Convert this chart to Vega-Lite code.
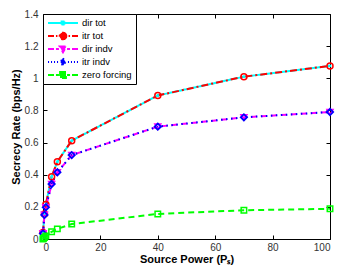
{
  "$schema": "https://vega.github.io/schema/vega-lite/v6.json",
  "width": 287,
  "height": 225,
  "autosize": "none",
  "padding": {"left": 43, "top": 14, "right": 15, "bottom": 29},
  "background": "white",
  "datasets": {
    "d": [
      {"s": "dir tot", "x": 0, "y": 0.04},
      {"s": "dir tot", "x": 0.5, "y": 0.155},
      {"s": "dir tot", "x": 1, "y": 0.215},
      {"s": "dir tot", "x": 3, "y": 0.388},
      {"s": "dir tot", "x": 5, "y": 0.481},
      {"s": "dir tot", "x": 10, "y": 0.612},
      {"s": "dir tot", "x": 40, "y": 0.893},
      {"s": "dir tot", "x": 70, "y": 1.01},
      {"s": "dir tot", "x": 100, "y": 1.077},
      {"s": "itr tot", "x": 0, "y": 0.04},
      {"s": "itr tot", "x": 0.5, "y": 0.155},
      {"s": "itr tot", "x": 1, "y": 0.215},
      {"s": "itr tot", "x": 3, "y": 0.388},
      {"s": "itr tot", "x": 5, "y": 0.481},
      {"s": "itr tot", "x": 10, "y": 0.612},
      {"s": "itr tot", "x": 40, "y": 0.893},
      {"s": "itr tot", "x": 70, "y": 1.01},
      {"s": "itr tot", "x": 100, "y": 1.077},
      {"s": "dir indv", "x": 0, "y": 0.035},
      {"s": "dir indv", "x": 0.5, "y": 0.15},
      {"s": "dir indv", "x": 1, "y": 0.197},
      {"s": "dir indv", "x": 3, "y": 0.342},
      {"s": "dir indv", "x": 5, "y": 0.415},
      {"s": "dir indv", "x": 10, "y": 0.522},
      {"s": "dir indv", "x": 40, "y": 0.699},
      {"s": "dir indv", "x": 70, "y": 0.757},
      {"s": "dir indv", "x": 100, "y": 0.79},
      {"s": "itr indv", "x": 0, "y": 0.035},
      {"s": "itr indv", "x": 0.5, "y": 0.15},
      {"s": "itr indv", "x": 1, "y": 0.197},
      {"s": "itr indv", "x": 3, "y": 0.342},
      {"s": "itr indv", "x": 5, "y": 0.415},
      {"s": "itr indv", "x": 10, "y": 0.522},
      {"s": "itr indv", "x": 40, "y": 0.699},
      {"s": "itr indv", "x": 70, "y": 0.757},
      {"s": "itr indv", "x": 100, "y": 0.79},
      {"s": "zero forcing", "x": 0, "y": 0.0},
      {"s": "zero forcing", "x": 0.1, "y": 0.003},
      {"s": "zero forcing", "x": 0.5, "y": 0.01},
      {"s": "zero forcing", "x": 1, "y": 0.018},
      {"s": "zero forcing", "x": 3, "y": 0.045},
      {"s": "zero forcing", "x": 5, "y": 0.063},
      {"s": "zero forcing", "x": 10, "y": 0.093},
      {"s": "zero forcing", "x": 40, "y": 0.156},
      {"s": "zero forcing", "x": 70, "y": 0.179},
      {"s": "zero forcing", "x": 100, "y": 0.188}
    ]
  },
  "data": {"name": "d"},
  "resolve": {"axis": {"x": "independent", "y": "independent"}},
  "layer": [
    {
      "mark": {"type": "line", "strokeWidth": 2, "clip": false},
      "encoding": {
        "x": {
          "field": "x", "type": "quantitative",
          "scale": {"domain": [0, 100], "nice": false},
          "axis": {"values": [0, 20, 40, 60, 80, 100], "title": "Source Power (Pₛ)", "orient": "bottom"}
        },
        "y": {
          "field": "y", "type": "quantitative",
          "scale": {"domain": [0, 1.4], "nice": false},
          "axis": {"values": [0, 0.2, 0.4, 0.6, 0.8, 1, 1.2, 1.4], "format": "~g", "title": "Secrecy Rate (bps/Hz)", "orient": "left"}
        },
        "color": {
          "field": "s", "type": "nominal",
          "scale": {"domain": ["dir tot", "itr tot", "dir indv", "itr indv", "zero forcing"], "range": ["#00ffff", "#ff0000", "#ff00ff", "#0000ff", "#00ff00"]},
          "legend": {
            "title": null,
            "orient": "top-left",
            "offset": 0,
            "padding": 4,
            "rowPadding": 3,
            "clipHeight": 10,
            "strokeColor": "black",
            "fillColor": "white",
            "cornerRadius": 0,
            "symbolSize": 900,
            "symbolStrokeWidth": 1.8,
            "labelOffset": 3,
            "labelFont": "Liberation Sans",
            "labelFontSize": 9.5,
            "labelColor": "black",
            "encode": {
              "symbols": {
                "update": {
                  "shape": {"signal": "datum.value === 'dir tot' ? 'M-1,0H1M-0.1,-0.1H0.1V0.1H-0.1Z' : datum.value === 'itr tot' ? 'M-1,0H-0.6M-0.47,0H-0.37M1,0H0.6M0.47,0H0.37M0.23,0A0.23,0.23,0,1,1,-0.23,0A0.23,0.23,0,1,1,0.23,0Z' : datum.value === 'dir indv' ? 'M-1,0H-0.6M-0.47,0H-0.27M1,0H0.6M0.47,0H0.27M-0.23,-0.17L0.23,-0.17L0,0.23Z' : datum.value === 'itr indv' ? 'M-1,0H-0.93M-0.8,0H-0.73M-0.6,0H-0.53M-0.4,0H-0.33M1,0H0.93M0.8,0H0.73M0.6,0H0.53M0.4,0H0.33M0,-0.25L0.18,0L0,0.25L-0.18,0Z' : 'M-1,0H-0.6M-0.47,0H-0.27M1,0H0.6M0.47,0H0.27M-0.2,-0.2H0.2V0.2H-0.2Z'"},
                  "size": {"value": 900},
                  "fill": {"signal": "datum.value === 'dir tot' ? '#00ffff' : datum.value === 'dir indv' ? '#ff00ff' : datum.value === 'itr indv' ? '#0000ff' : 'transparent'"},
                  "strokeDash": {"value": []},
                  "opacity": {"value": 1}
                }
              }
            }
          }
        },
        "strokeDash": {
          "field": "s", "type": "nominal",
          "scale": {"domain": ["dir tot", "itr tot", "dir indv", "itr indv", "zero forcing"], "range": [[1, 0], [7, 3, 2, 3], [6, 4], [1.5, 3.5], [6, 4]]},
          "legend": null
        }
      }
    },
    {
      "transform": [{"filter": "datum.s === 'dir tot'"}],
      "mark": {"type": "point", "shape": "square", "size": 6, "filled": true, "opacity": 1, "clip": false},
      "encoding": {
        "x": {"field": "x", "type": "quantitative", "axis": null},
        "y": {"field": "y", "type": "quantitative", "axis": null},
        "color": {"field": "s", "type": "nominal", "legend": null}
      }
    },
    {
      "transform": [{"filter": "datum.s === 'itr tot'"}],
      "mark": {"type": "point", "shape": "circle", "size": 36, "filled": false, "strokeWidth": 1.5, "opacity": 1, "clip": false},
      "encoding": {
        "x": {"field": "x", "type": "quantitative", "axis": null},
        "y": {"field": "y", "type": "quantitative", "axis": null},
        "color": {"field": "s", "type": "nominal", "legend": null}
      }
    },
    {
      "transform": [{"filter": "datum.s === 'dir indv'"}],
      "mark": {"type": "point", "shape": "triangle-down", "size": 36, "filled": false, "strokeWidth": 1.5, "opacity": 1, "clip": false},
      "encoding": {
        "x": {"field": "x", "type": "quantitative", "axis": null},
        "y": {"field": "y", "type": "quantitative", "axis": null},
        "color": {"field": "s", "type": "nominal", "legend": null}
      }
    },
    {
      "transform": [{"filter": "datum.s === 'itr indv'"}],
      "mark": {"type": "point", "shape": "diamond", "size": 40, "filled": false, "strokeWidth": 1.8, "opacity": 1, "clip": false},
      "encoding": {
        "x": {"field": "x", "type": "quantitative", "axis": null},
        "y": {"field": "y", "type": "quantitative", "axis": null},
        "color": {"field": "s", "type": "nominal", "legend": null}
      }
    },
    {
      "transform": [{"filter": "datum.s === 'zero forcing'"}],
      "mark": {"type": "point", "shape": "square", "size": 30, "filled": false, "strokeWidth": 1.5, "opacity": 1, "clip": false},
      "encoding": {
        "x": {"field": "x", "type": "quantitative", "axis": null},
        "y": {"field": "y", "type": "quantitative", "axis": null},
        "color": {"field": "s", "type": "nominal", "legend": null}
      }
    },
    {
      "mark": {"type": "point", "opacity": 0},
      "encoding": {
        "x": {"field": "x", "type": "quantitative", "axis": {"orient": "top", "values": [0, 20, 40, 60, 80, 100], "labels": false, "title": null}},
        "y": {"field": "y", "type": "quantitative", "axis": {"orient": "right", "values": [0, 0.2, 0.4, 0.6, 0.8, 1, 1.2, 1.4], "labels": false, "title": null}}
      }
    }
  ],
  "config": {
    "view": {"stroke": "black", "strokeWidth": 1},
    "axis": {
      "grid": false,
      "domain": false,
      "tickSize": -4,
      "tickColor": "black",
      "tickWidth": 1,
      "labelFont": "Liberation Sans",
      "labelFontSize": 10,
      "labelColor": "#333333",
      "titleFont": "Liberation Sans",
      "titleFontSize": 11,
      "titleFontWeight": "bold",
      "titleColor": "black"
    },
    "axisBottom": {"labelPadding": 7, "titlePadding": 1},
    "axisLeft": {"labelPadding": 9, "titlePadding": 3}
  }
}
